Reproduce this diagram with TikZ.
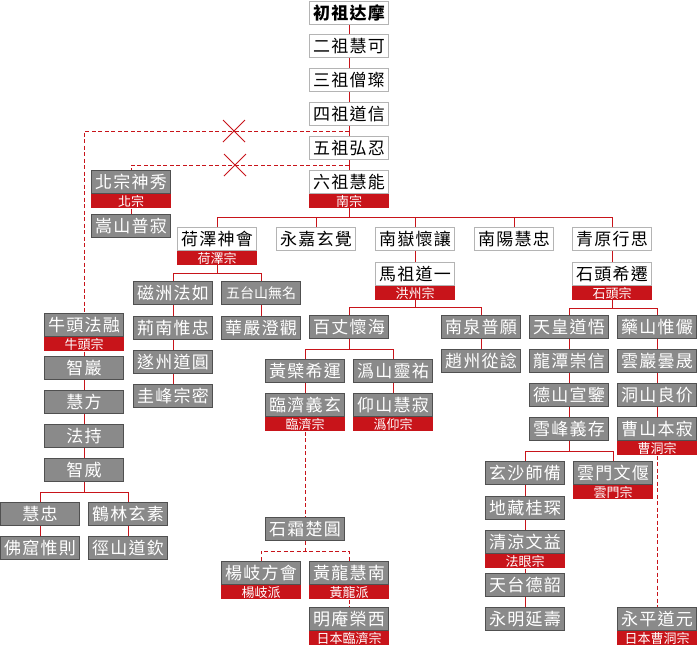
\documentclass[tikz,border=0pt]{standalone}
\usepackage{fontspec}
\setmainfont{Noto Sans CJK TC}
\newfontfamily\boxfont[LetterSpace=7]{Noto Sans CJK TC}
\definecolor{zred}{HTML}{C8141A}
\definecolor{zgray}{HTML}{8A8A8A}
\definecolor{zdark}{HTML}{505050}
\definecolor{zlight}{HTML}{B4B4B4}
\tikzset{
  wbox/.style={draw=zlight, line width=1pt, fill=white, minimum width=79pt, minimum height=23pt, inner sep=0pt, font=\boxfont\fontsize{17}{17}\selectfont, text=black},
  gbox/.style={draw=zdark, line width=1.2pt, fill=zgray, minimum width=79pt, minimum height=23pt, inner sep=0pt, font=\boxfont\fontsize{17}{17}\selectfont, text=white},
  five/.style={font=\fontsize{14}{14}\selectfont},
  lab/.style={fill=zred, minimum width=80pt, minimum height=14pt, inner sep=0pt, font=\fontsize{13}{13}\selectfont, text=white, anchor=north},
  link/.style={draw=zred, line width=1pt},
  dlink/.style={draw=zred, line width=1pt, dash pattern=on 4pt off 2.5pt},
  xmark/.style={draw=zred, line width=1pt}
}
\begin{document}
\begin{tikzpicture}[x=1pt,y=-1pt]
\fill[white] (0,0) rectangle (697,646);
\useasboundingbox (0,0) rectangle (697,646);
% main column
\node[wbox,font=\boxfont\fontsize{17}{17}\selectfont\bfseries] (d1) at (349,13) {初祖达摩};
\node[wbox] (d2) at (349,46) {二祖慧可};
\node[wbox] (d3) at (349,80) {三祖僧璨};
\node[wbox] (d4) at (349,114) {四祖道信};
\node[wbox] (d5) at (349,148) {五祖弘忍};
\node[wbox] (d6) at (349,182) {六祖慧能};
\node[lab] (d6l) at (d6.south) {南宗};
% northern school
\node[gbox] (bx) at (131,182) {北宗神秀};
\node[lab] (bxl) at (bx.south) {北宗};
\node[gbox] (bs) at (131,226) {嵩山普寂};
% row 2
\node[wbox] (h) at (217,239) {荷澤神會};
\node[lab] (hl) at (h.south) {荷澤宗};
\node[wbox] (yj) at (316,239) {永嘉玄覺};
\node[wbox] (n) at (415,239) {南嶽懷讓};
\node[wbox] (ny) at (514,239) {南陽慧忠};
\node[wbox] (q) at (612,239) {青原行思};
\node[wbox] (m) at (415,274) {馬祖道一};
\node[lab] (ml) at (m.south) {洪州宗};
\node[wbox] (s) at (612,274) {石頭希遷};
\node[lab] (sl) at (s.south) {石頭宗};
% heze
\node[gbox] (cf) at (173,293) {磁洲法如};
\node[gbox,five] (wt) at (261,293) {五台山無名};
\node[gbox] (jn) at (173,328) {荊南惟忠};
\node[gbox] (hy) at (261,328) {華嚴澄觀};
\node[gbox] (sz) at (173,362) {遂州道圓};
\node[gbox] (gf) at (173,396) {圭峰宗密};
% niutou
\node[gbox] (nt) at (84,325) {牛頭法融};
\node[lab] (ntl) at (nt.south) {牛頭宗};
\node[gbox] (zy) at (84,368) {智巖};
\node[gbox] (hf) at (84,402) {慧方};
\node[gbox] (fc) at (84,436) {法持};
\node[gbox] (zw) at (84,470) {智威};
\node[gbox] (hz) at (40,514) {慧忠};
\node[gbox] (hl2) at (128,514) {鶴林玄素};
\node[gbox] (fk) at (40,548) {佛窟惟則};
\node[gbox] (js) at (128,548) {徑山道欽};
% mazu
\node[gbox] (bz) at (349,327) {百丈懷海};
\node[gbox] (nq) at (481,327) {南泉普願};
\node[gbox] (zz) at (481,361) {趙州從諗};
\node[gbox] (hb) at (305,371) {黃檗希運};
\node[gbox] (gs) at (393,371) {潙山靈祐};
\node[gbox] (lj) at (305,405) {臨濟義玄};
\node[lab] (ljl) at (lj.south) {臨濟宗};
\node[gbox] (ys) at (393,405) {仰山慧寂};
\node[lab] (ysl) at (ys.south) {潙仰宗};
\node[gbox] (ss) at (305,529) {石霜楚圓};
\node[gbox] (yq) at (261,573) {楊岐方會};
\node[lab] (yql) at (yq.south) {楊岐派};
\node[gbox] (hn) at (349,573) {黃龍慧南};
\node[lab] (hnl) at (hn.south) {黃龍派};
\node[gbox] (ma) at (349,619) {明庵榮西};
\node[lab] (mal) at (ma.south) {日本臨濟宗};
% shitou
\node[gbox] (th) at (569,327) {天皇道悟};
\node[gbox] (yc) at (657,327) {藥山惟儼};
\node[gbox] (lt) at (569,361) {龍潭崇信};
\node[gbox] (ds) at (569,395) {德山宣鑒};
\node[gbox] (xf) at (569,429) {雪峰義存};
\node[gbox] (xs) at (525,473) {玄沙師備};
\node[gbox] (ym) at (613,473) {雲門文偃};
\node[lab] (yml) at (ym.south) {雲門宗};
\node[gbox] (dz) at (525,508) {地藏桂琛};
\node[gbox] (ql) at (525,542) {清涼文益};
\node[lab] (qll) at (ql.south) {法眼宗};
\node[gbox] (tt) at (525,585) {天台德韶};
\node[gbox] (yy) at (525,619) {永明延壽};
\node[gbox] (yg) at (657,361) {雲巖曇晟};
\node[gbox] (dsl) at (657,395) {洞山良价};
\node[gbox] (cs) at (657,429) {曹山本寂};
\node[lab] (csl) at (cs.south) {曹洞宗};
\node[gbox] (yp) at (657,619) {永平道元};
\node[lab] (ypl) at (yp.south) {日本曹洞宗};
% bus coordinates
\coordinate (c4) at (349,131);
\coordinate (c5) at (349,165);
\coordinate (b6) at (349,217);
\coordinate (bh) at (217,273);
\coordinate (bm) at (415,307);
\coordinate (bbz) at (349,349);
\coordinate (bsh) at (612,308);
\coordinate (bxf) at (569,451);
\coordinate (bzw) at (84,492);
\coordinate (bss) at (305,551);
% main connectors
\draw[link] (d1) -- (d2);
\draw[link] (d2) -- (d3);
\draw[link] (d3) -- (d4);
\draw[link] (d4) -- (d5);
\draw[link] (d5) -- (d6);
\draw[link] (d6l.south) -- (b6);
\foreach \c in {h,yj,n,ny,q} \draw[link] (\c.north) |- (b6);
\draw[link] (bxl.south) -- (bs.north);
\draw[link] (n.south) -- (m.north);
\draw[link] (q.south) -- (s.north);
% heze
\draw[link] (hl.south) -- (bh);
\draw[link] (cf.north) |- (bh);
\draw[link] (wt.north) |- (bh);
\draw[link] (cf.south) -- (jn.north);
\draw[link] (jn.south) -- (sz.north);
\draw[link] (sz.south) -- (gf.north);
\draw[link] (wt.south) -- (hy.north);
% niutou
\draw[link] (ntl.south) -- (zy.north);
\draw[link] (zy.south) -- (hf.north);
\draw[link] (hf.south) -- (fc.north);
\draw[link] (fc.south) -- (zw.north);
\draw[link] (zw.south) -- (bzw);
\draw[link] (hz.north) |- (bzw);
\draw[link] (hl2.north) |- (bzw);
\draw[link] (hz.south) -- (fk.north);
\draw[link] (hl2.south) -- (js.north);
% mazu
\draw[link] (ml.south) -- (bm);
\draw[link] (bz.north) |- (bm);
\draw[link] (nq.north) |- (bm);
\draw[link] (nq.south) -- (zz.north);
\draw[link] (bz.south) -- (bbz);
\draw[link] (hb.north) |- (bbz);
\draw[link] (gs.north) |- (bbz);
\draw[link] (hb.south) -- (lj.north);
\draw[link] (gs.south) -- (ys.north);
\draw[dlink] (ljl.south) -- (ss.north);
\draw[dlink] (ss.south) -- (bss);
\draw[dlink] (yq.north) |- (bss);
\draw[dlink] (hn.north) |- (bss);
\draw[dlink] (hnl.south) -- (ma.north);
% shitou
\draw[link] (sl.south) -- (bsh);
\draw[link] (th.north) |- (bsh);
\draw[link] (yc.north) |- (bsh);
\draw[link] (th.south) -- (lt.north);
\draw[link] (lt.south) -- (ds.north);
\draw[link] (ds.south) -- (xf.north);
\draw[link] (xf.south) -- (bxf);
\draw[link] (xs.north) |- (bxf);
\draw[link] (ym.north) |- (bxf);
\draw[link] (xs.south) -- (dz.north);
\draw[link] (dz.south) -- (ql.north);
\draw[link] (qll.south) -- (tt.north);
\draw[link] (tt.south) -- (yy.north);
\draw[link] (yc.south) -- (yg.north);
\draw[link] (yg.south) -- (dsl.north);
\draw[link] (dsl.south) -- (cs.north);
\draw[dlink] (csl.south) -- (yp.north);
% dashed side lines with crosses
\draw[dlink] (c4) -| (nt.north);
\draw[dlink] (c5) -| (bx.north);
\draw[xmark] (223,120) -- (245,142) (223,142) -- (245,120);
\draw[xmark] (224,154) -- (246,176) (224,176) -- (246,154);
\end{tikzpicture}
\end{document}
